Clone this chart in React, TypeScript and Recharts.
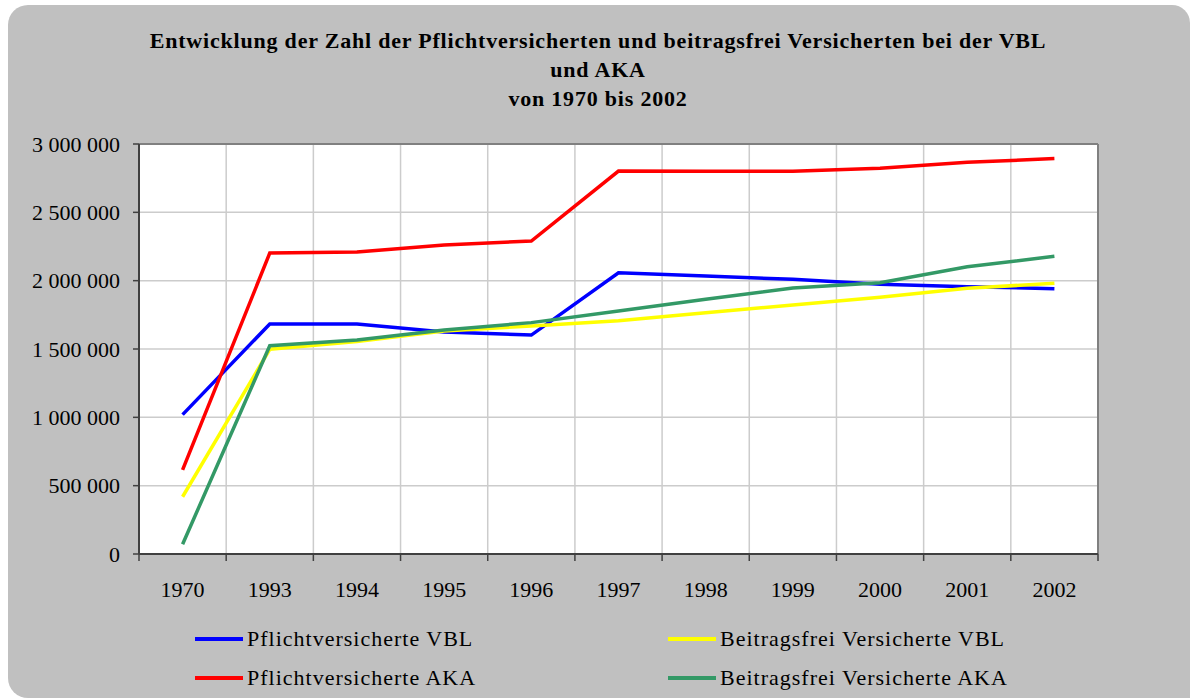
import { LineChart, Line, XAxis, YAxis, CartesianGrid, ReferenceLine } from "recharts";

// categories + series values
const years = ["1970", "1993", "1994", "1995", "1996", "1997", "1998", "1999", "2000", "2001", "2002"];
const pflichtVBL = [1020000, 1683000, 1683000, 1624000, 1602000, 2058000, 2034000, 2010000, 1973000, 1956000, 1941000];
const beitragsfreiVBL = [419000, 1498000, 1554000, 1632000, 1668000, 1707000, 1766000, 1822000, 1878000, 1944000, 1981000];
const pflichtAKA = [615000, 2202000, 2210000, 2261000, 2290000, 2802000, 2800000, 2800000, 2822000, 2866000, 2893000];
const beitragsfreiAKA = [71000, 1524000, 1566000, 1639000, 1693000, 1778000, 1864000, 1946000, 1985000, 2102000, 2178000];
const yTicks = [0, 500000, 1000000, 1500000, 2000000, 2500000, 3000000];

const titleLines = [
  "Entwicklung der Zahl der Pflichtversicherten und beitragsfrei Versicherten bei der VBL",
  "und AKA",
  "von 1970 bis 2002",
];

const series = [
  { key: "pflichtVBL", name: "Pflichtversicherte VBL", color: "#0000ff" },
  { key: "beitragsfreiVBL", name: "Beitragsfrei Versicherte VBL", color: "#ffff00" },
  { key: "pflichtAKA", name: "Pflichtversicherte AKA", color: "#ff0000" },
  { key: "beitragsfreiAKA", name: "Beitragsfrei Versicherte AKA", color: "#339966" },
];

const data = years.map((year, i) => ({
  idx: i,
  year,
  pflichtVBL: pflichtVBL[i],
  beitragsfreiVBL: beitragsfreiVBL[i],
  pflichtAKA: pflichtAKA[i],
  beitragsfreiAKA: beitragsfreiAKA[i],
}));

// category centres get labels, category boundaries get tick marks / grid lines
const boundaries = Array.from({ length: years.length + 1 }, (_, i) => i - 0.5);
const centres = years.map((_, i) => i);
const xTicks = [...boundaries, ...centres].sort((a, b) => a - b);

const FONT = "'Liberation Serif', 'Times New Roman', serif";

const formatThousands = (v: number) => String(v).replace(/\B(?=(\d{3})+(?!\d))/g, " ");

const XTick = ({ x, y, payload }: any) => {
  const v = payload.value as number;
  if (!Number.isInteger(v)) {
    return <line x1={x} x2={x} y1={y - 8} y2={y - 1} stroke="#404040" strokeWidth={1.5} />;
  }
  return (
    <text x={x} y={y + 35} textAnchor="middle" fontFamily={FONT} fontSize={22} fill="#000">
      {years[v]}
    </text>
  );
};

export default function App() {
  return (
    <div style={{ position: "absolute", left: 0, top: 0, width: 1190, height: 699, overflow: "hidden", background: "#fff" }}>
      <div
        style={{
          position: "absolute",
          left: 8,
          top: 5,
          width: 1182,
          height: 693,
          background: "#c0c0c0",
          borderRadius: "20px 18px 0 20px",
        }}
      />
      <div style={{ position: "absolute", left: 0, top: 26, width: 1196, textAlign: "center", fontFamily: FONT, fontWeight: "bold", fontSize: 22, letterSpacing: 0.8, lineHeight: "29px", color: "#000" }}>
        {titleLines.map((t) => (
          <div key={t}>{t}</div>
        ))}
      </div>
      <div style={{ position: "absolute", left: 0, top: 0 }}>
        <LineChart width={1190} height={699} data={data} margin={{ top: 144, right: 92, bottom: 85, left: 9 }}>
          <CartesianGrid
            fill="#ffffff"
            stroke="#cccccc"
            strokeWidth={1.5}
            verticalCoordinatesGenerator={({ offset }: any) =>
              boundaries.map((b) => offset.left + ((b + 0.5) / years.length) * offset.width)
            }
          />
          <XAxis
            dataKey="idx"
            type="number"
            domain={[-0.5, years.length - 0.5]}
            ticks={xTicks}
            interval={0}
            allowDecimals
            height={60}
            tickLine={false}
            tickSize={6}
            tickMargin={2}
            axisLine={{ stroke: "#404040", strokeWidth: 2 }}
            tick={<XTick />}
          />
          <YAxis
            domain={[0, 3000000]}
            ticks={yTicks}
            width={130}
            tickSize={6}
            tickMargin={13}
            tickFormatter={formatThousands}
            tickLine={{ stroke: "#404040", strokeWidth: 1.5 }}
            axisLine={{ stroke: "#404040", strokeWidth: 2 }}
            tick={{ fill: "#000", fontFamily: FONT, fontSize: 22 }}
          />
          <ReferenceLine y={3000000} stroke="#808080" strokeWidth={2} />
          <ReferenceLine x={years.length - 0.5} stroke="#808080" strokeWidth={2} />
          {series.map((s) => (
            <Line
              key={s.key}
              type="linear"
              dataKey={s.key}
              name={s.name}
              stroke={s.color}
              strokeWidth={3.5}
              dot={false}
              activeDot={false}
              isAnimationActive={false}
            />
          ))}
        </LineChart>
      </div>
      {/* legend, two columns filled row by row */}
      {series.map((s, i) => (
        <div
          key={s.key}
          style={{
            position: "absolute",
            left: i % 2 === 0 ? 195 : 668,
            top: i < 2 ? 626 : 665,
            height: 26,
            display: "flex",
            alignItems: "center",
            fontFamily: FONT,
            fontSize: 22,
            letterSpacing: 1,
            color: "#000",
            whiteSpace: "nowrap",
          }}
        >
          <span style={{ display: "inline-block", width: 48, height: 4, background: s.color, marginRight: 4 }} />
          <span>{s.name}</span>
        </div>
      ))}
    </div>
  );
}
